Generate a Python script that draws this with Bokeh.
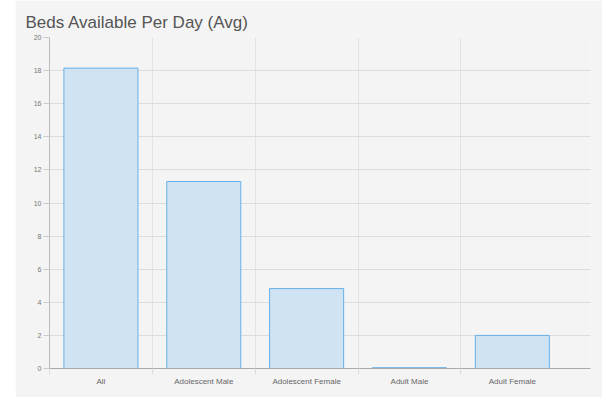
from bokeh.plotting import figure
from bokeh.models import FixedTicker, Range1d
from bokeh.embed import file_html
from bokeh.resources import INLINE

title_text = "Beds Available Per Day (Avg)"
categories = ["All", "Adolescent Male", "Adolescent Female", "Adult Male", "Adult Female"]
beds_avg = [18.15, 11.3, 4.83, 0.05, 2.0]
y_ticks = [0, 2, 4, 6, 8, 10, 12, 14, 16, 18, 20]

xs = [i + 1 for i in range(len(categories))]
bounds = [i + 0.5 for i in range(len(categories))]

p = figure(width=587, height=397, output_backend="svg", toolbar_location=None,
           x_range=Range1d(0.5, 5.76), y_range=Range1d(0, 20),
           min_border_left=34, min_border_right=12, min_border_top=37, min_border_bottom=29,
           background_fill_color="#f4f4f4", border_fill_color="#f4f4f4",
           outline_line_color=None, margin=(0, 0, 0, 15))

p.title.text = title_text
p.title.text_font = "Liberation Sans"
p.title.text_font_size = "17px"
p.title.text_font_style = "normal"
p.title.text_color = "#555555"
p.title.offset = -24
p.title.standoff = 11

p.vbar(x=xs, top=beds_avg, width=0.72, bottom=0,
       fill_color="#cfe3f2", line_color="#66b0e8", line_width=1)

xa = p.xaxis[0]
xa.ticker = FixedTicker(ticks=xs, minor_ticks=bounds)
xa.major_label_overrides = {x: c for x, c in zip(xs, categories)}
xa.major_tick_line_color = None
xa.minor_tick_in = 0
xa.minor_tick_out = 6
xa.minor_tick_line_color = "#dddddd"
xa.axis_line_color = "#aaaaaa"
xa.major_label_text_font = "Liberation Sans"
xa.major_label_text_font_size = "8px"
xa.major_label_text_color = "#666666"
xa.major_label_standoff = 2

ya = p.yaxis[0]
ya.ticker = FixedTicker(ticks=y_ticks)
ya.minor_tick_line_color = None
ya.major_tick_in = 0
ya.major_tick_out = 6
ya.major_tick_line_color = "#cccccc"
ya.axis_line_color = "#bbbbbb"
ya.major_label_text_font = "Liberation Sans"
ya.major_label_text_font_size = "7px"
ya.major_label_text_color = "#777777"
ya.major_label_standoff = 2

p.xgrid.ticker = FixedTicker(ticks=bounds)
p.xgrid.grid_line_color = "#e3e3e3"
p.ygrid.ticker = FixedTicker(ticks=y_ticks)
p.ygrid.grid_line_color = "#dcdcdc"

open("out.html", "w").write(file_html(p, INLINE))
